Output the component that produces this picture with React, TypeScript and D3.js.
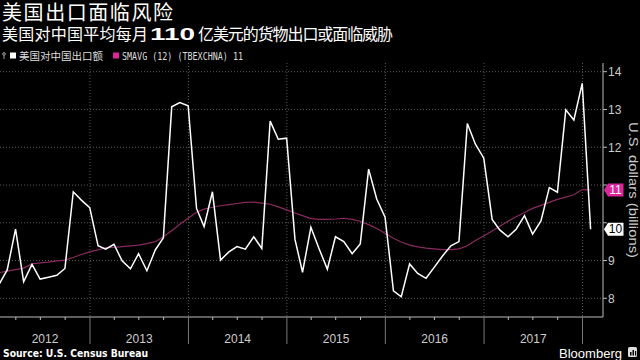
import React from "react";
import * as d3 from "d3";

// Monthly US exports to China, Jan 2012 .. Jan 2018 (billions USD)
const exportsValues = [
  8.38, 8.75, 9.83, 8.44, 8.9, 8.51, 8.56, 8.61, 8.79, 10.82, 10.6, 10.4,
  9.39, 9.3, 9.43, 8.99, 8.78, 9.18, 8.73, 9.28, 9.6, 13.07, 13.18, 13.1,
  10.38, 9.9, 10.82, 9.01, 9.23, 9.37, 9.3, 9.63, 9.32, 12.69, 12.21, 12.24,
  9.56, 8.69, 9.88, 9.32, 8.77, 9.63, 9.5, 9.18, 9.44, 11.42, 10.63, 10.15,
  8.2, 8.04, 8.91, 8.66, 8.53, 8.82, 9.12, 9.39, 9.5, 12.63, 12.08, 11.71,
  10.09, 9.81, 9.63, 9.83, 10.19, 9.7, 10.05, 10.93, 10.81, 12.99, 12.72, 13.69,
  9.83,
];
// 12-month simple moving average
const smavgValues = [
  8.68, 8.72, 8.76, 8.8, 8.91, 8.94, 8.96, 8.99, 9.01, 9.08, 9.16, 9.23,
  9.28, 9.34, 9.35, 9.37, 9.39, 9.41, 9.45, 9.5, 9.63, 9.79, 9.96, 10.12,
  10.28, 10.36, 10.41, 10.45, 10.48, 10.51, 10.54, 10.55, 10.52, 10.49, 10.42, 10.34,
  10.26, 10.19, 10.11, 10.09, 10.09, 10.1, 10.12, 10.09, 10.04, 9.95, 9.85, 9.72,
  9.59, 9.49, 9.41, 9.36, 9.33, 9.31, 9.29, 9.29, 9.31, 9.39, 9.53, 9.65,
  9.78, 9.91, 10.04, 10.16, 10.27, 10.38, 10.46, 10.54, 10.62, 10.68, 10.74, 10.88,
  10.87,
];
const yearLabels = ["2012", "2013", "2014", "2015", "2016", "2017"];
const yTicks = [8, 9, 10, 11, 12, 13, 14];

const title = "美国出口面临风险";
const subtitleA = "美国对中国平均每月";
const subtitleNum = "110";
const subtitleB = "亿美元的货物出口或面临威胁";
const legendA = "美国对中国出口额";
const legendB = "SMAVG (12) (TBEXCHNA) 11";
const yTitle = "U.S. dollars (billions)";
const source = "Source: U.S. Census Bureau";

const CJK = "'Liberation Sans', 'Noto Sans CJK SC', sans-serif";
const LAT = "'Liberation Sans', Arial, sans-serif";
const MAG = "#e0259a";
const MA_LINE = "#8a2a5e";

export default function App() {
  const W = 640, H = 360;
  const left = 0, right = 603, top = 63, bottom = 317;
  const dates = exportsValues.map((_, i) => new Date(2012, i + 1, 0));
  const x = d3.scaleTime()
    .domain([new Date(2012, 1, 2, 8), new Date(2018, 2, 18)])
    .range([left, right]);
  const y = d3.scaleLinear().domain([8, 14]).range([298.3, 71.7]);

  const line = d3.line<number>()
    .x((_, i) => x(dates[i]))
    .y((d) => y(d));

  const yearBounds = d3.timeYear.range(new Date(2013, 0, 1), new Date(2018, 0, 2));
  const quarterTicks = d3.timeMonth
    .range(new Date(2012, 1, 1), new Date(2018, 2, 18))
    .filter((d) => d.getMonth() % 3 === 0 && d.getMonth() !== 0);

  const lastV = exportsValues[exportsValues.length - 1];
  const lastMA = smavgValues[smavgValues.length - 1];
  const tagYs = [y(lastMA), y(lastV)];

  const tag = (cy: number) =>
    `M${right + 1},${cy} L${right + 5},${cy - 6.5} L${right + 20.5},${cy - 6.5} L${right + 20.5},${cy + 6.5} L${right + 5},${cy + 6.5} Z`;

  return (
    <svg width={W} height={H} style={{ position: "absolute", left: 0, top: 0, background: "#000" }}>
      <rect x={0} y={0} width={W} height={H} fill="#000" />
      <defs>
        <clipPath id="plot">
          <rect x={left} y={top} width={right - left} height={bottom - top} />
        </clipPath>
      </defs>

      {/* Title */}
      <text x={2} y={19.5} fill="#fff" fontFamily={CJK} fontSize={20} textLength={171} lengthAdjust="spacing">{title}</text>
      <text x={2} y={40} fill="#fff" fontFamily={CJK} fontSize={16} textLength={146} lengthAdjust="spacing">{subtitleA}</text>
      <text x={150} y={40} fill="#fff" fontFamily={LAT} fontWeight="bold" fontSize={16} textLength={45} lengthAdjust="spacingAndGlyphs">{subtitleNum}</text>
      <text x={198} y={40} fill="#fff" fontFamily={CJK} fontSize={16} textLength={195} lengthAdjust="spacing">{subtitleB}</text>

      {/* Legend */}
      <circle cx={4} cy={54} r={1.3} fill="none" stroke="#ccc" strokeWidth={0.8} />
      <line x1={4} y1={55.5} x2={4} y2={59} stroke="#ccc" strokeWidth={0.8} />
      <rect x={10} y={52.5} width={6} height={6} fill="#fff" />
      <text x={19} y={60} fill="#ddd" fontFamily={CJK} fontSize={10.5} textLength={84} lengthAdjust="spacing">{legendA}</text>
      <rect x={113} y={52.5} width={6} height={6} fill={MAG} />
      <text x={122} y={60} fill="#ddd" fontFamily={"'DejaVu Sans Mono', monospace"} fontSize={10} textLength={121} lengthAdjust="spacingAndGlyphs">{legendB}</text>

      {/* Grid */}
      {yTicks.map((t) => (
        <line key={"g" + t} x1={left} x2={right} y1={y(t)} y2={y(t)} stroke="#5a5a5a" strokeWidth={1} strokeDasharray="1,2" />
      ))}
      {yearBounds.map((d, i) => (
        <line key={"v" + i} x1={x(d)} x2={x(d)} y1={top} y2={bottom} stroke="#5a5a5a" strokeWidth={1} strokeDasharray="1,2" />
      ))}

      {/* Series */}
      <g clipPath="url(#plot)">
        <path d={line(smavgValues) || ""} fill="none" stroke={MA_LINE} strokeWidth={1.2} />
        <path d={line(exportsValues) || ""} fill="none" stroke="#fff" strokeWidth={1.5} strokeLinejoin="miter" />
      </g>

      {/* X axis */}
      <line x1={left} x2={right} y1={bottom} y2={bottom} stroke="#bbb" strokeWidth={1} />
      {quarterTicks.map((d, i) => (
        <line key={"q" + i} x1={x(d)} x2={x(d)} y1={bottom} y2={bottom + 3} stroke="#bbb" strokeWidth={1} />
      ))}
      {yearBounds.map((d, i) => (
        <line key={"yb" + i} x1={x(d)} x2={x(d)} y1={bottom} y2={344} stroke="#777" strokeWidth={1} />
      ))}
      {yearLabels.map((lab) => {
        const yr = +lab;
        const a = Math.max(left, x(new Date(yr, 0, 1)));
        const b = Math.min(right, x(new Date(yr + 1, 0, 1)));
        return (
          <text key={lab} x={(a + b) / 2} y={342.5} fill="#ccc" fontFamily={LAT} fontSize={12} textAnchor="middle">{lab}</text>
        );
      })}

      {/* Y axis */}
      <line x1={right} x2={right} y1={top} y2={bottom} stroke="#bbb" strokeWidth={1} />
      {yTicks.map((t) => (
        <g key={"t" + t}>
          <line x1={right} x2={right + 4} y1={y(t)} y2={y(t)} stroke="#bbb" strokeWidth={1} />
          {tagYs.every((ty) => Math.abs(ty - y(t)) > 12) && (
            <text x={right + 5} y={y(t) + 4.3} fill="#ccc" fontFamily={LAT} fontSize={12}>{t}</text>
          )}
        </g>
      ))}
      <text transform={`translate(629,190) rotate(90)`} fill="#ccc" fontFamily={LAT} fontSize={13.5} textAnchor="middle" textLength={136} lengthAdjust="spacingAndGlyphs">{yTitle}</text>

      {/* Last value tags */}
      <path d={tag(y(lastMA))} fill={MAG} />
      <text x={right + 12.5} y={y(lastMA) + 4.3} fill="#fff" fontFamily={LAT} fontSize={12} textAnchor="middle">{Math.round(lastMA)}</text>
      <path d={tag(y(lastV))} fill="#fff" />
      <text x={right + 12.5} y={y(lastV) + 4.3} fill="#000" fontFamily={LAT} fontSize={12} textAnchor="middle">{Math.round(lastV)}</text>

      {/* Footer */}
      <text x={3} y={357} fill="#fff" fontFamily={"'DejaVu Sans', sans-serif"} fontWeight="bold" fontSize={10.5} textLength={145} lengthAdjust="spacingAndGlyphs">{source}</text>
      <text x={559} y={358} fill="#fff" fontFamily={LAT} fontSize={13} textLength={63} lengthAdjust="spacingAndGlyphs">Bloomberg</text>
      <rect x={628} y={347} width={9} height={10} rx={1.5} fill="#ddd" />
      <rect x={630} y={352} width={1.5} height={3.5} fill="#000" />
      <rect x={632.5} y={350} width={1.5} height={5.5} fill="#000" />
      <rect x={635} y={351} width={1.2} height={4.5} fill="#000" />
    </svg>
  );
}
